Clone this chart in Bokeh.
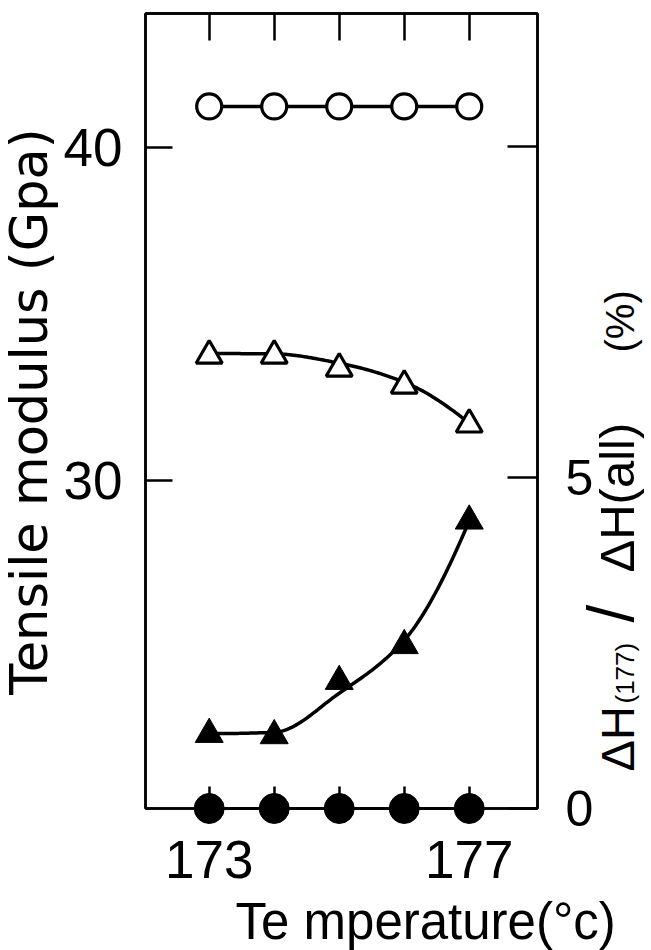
import numpy as np
from bokeh.plotting import figure
from bokeh.models import Range1d, LinearAxis, FixedTicker
from bokeh.embed import file_html
from bokeh.resources import INLINE
from bokeh.core.properties import value

# ---------------- data ----------------
temps = [173, 174, 175, 176, 177]
modulus_open_circle = [41.23, 41.23, 41.23, 41.23, 41.23]
modulus_open_triangle = [33.75, 33.75, 33.36, 32.85, 31.68]
dh_filled_triangle = [1.12, 1.10, 1.92, 2.46, 4.34]
dh_filled_circle = [0.0, 0.0, 0.0, 0.0, 0.0]
# hand-drawn smooth fit curves (values read where the curve crosses each temperature)
fit_open_triangle = [33.81, 33.80, 33.52, 32.95, 31.72]
fit_filled_triangle = [1.13, 1.15, 1.74, 2.54, 4.34]

x_ticks = [173, 174, 175, 176, 177]
x_tick_labels = {173: "173", 174: "", 175: "", 176: "", 177: "177"}
left_ticks = [30, 40]
right_ticks = [0, 5, 10]
right_tick_labels = {0: "0", 5: "5", 10: ""}

x_label = "Te mperature(°c)"
left_label = "Tensile modulus (Gpa)"
right_label_parts = ["ΔH", "(177)", "/", "ΔH(all)", "(%)"]

# ---------------- layout ----------------
X0, X1 = 172.02, 178.05
Y0, Y1 = 20.15, 44.02
P0, P1 = 0.0, 12.0
W, H = 651, 950
# frame edges in canvas pixels
FL, FR, FT, FB = 145, 537, 13, 808
BASE_SHIFT = 0.36  # text glyph baseline correction (fraction of font size)


def px_x(px):
    return X0 + (px - FL) / (FR - FL) * (X1 - X0)


def py_left(py):
    return Y0 + (FB - py) / (FB - FT) * (Y1 - Y0)


def py_pct(py):
    return P0 + (FB - py) / (FB - FT) * (P1 - P0)


def pchip(xs, ys, n=30):
    x = np.asarray(xs, float)
    y = np.asarray(ys, float)
    h = np.diff(x)
    d = np.diff(y) / h
    m = np.zeros_like(y)
    for k in range(1, len(x) - 1):
        if d[k - 1] * d[k] > 0:
            w1 = 2 * h[k] + h[k - 1]
            w2 = h[k] + 2 * h[k - 1]
            m[k] = (w1 + w2) / (w1 / d[k - 1] + w2 / d[k])

    def end(h0, h1, d0, d1):
        mm = ((2 * h0 + h1) * d0 - h0 * d1) / (h0 + h1)
        if np.sign(mm) != np.sign(d0):
            return 0.0
        if np.sign(d0) != np.sign(d1) and abs(mm) > abs(3 * d0):
            return 3 * d0
        return mm

    m[0] = end(h[0], h[1], d[0], d[1])
    m[-1] = end(h[-1], h[-2], d[-1], d[-2])
    ox, oy = [], []
    t = np.linspace(0, 1, n, endpoint=False)
    for k in range(len(x) - 1):
        h00 = 2 * t ** 3 - 3 * t ** 2 + 1
        h10 = t ** 3 - 2 * t ** 2 + t
        h01 = -2 * t ** 3 + 3 * t ** 2
        h11 = t ** 3 - t ** 2
        ox.extend(x[k] + t * h[k])
        oy.extend(h00 * y[k] + h10 * h[k] * m[k] + h01 * y[k + 1] + h11 * h[k] * m[k + 1])
    ox.append(x[-1])
    oy.append(y[-1])
    return ox, oy


p = figure(width=W, height=H, x_range=Range1d(X0, X1), y_range=Range1d(Y0, Y1),
           output_backend="svg", toolbar_location=None,
           x_axis_location=None, y_axis_location=None,
           min_border_left=FL, min_border_right=W - FR, min_border_top=FT,
           min_border_bottom=H - FB)
p.extra_y_ranges = {"pct": Range1d(P0, P1)}
p.background_fill_color = "white"
p.border_fill_color = "white"
p.outline_line_color = "black"
p.outline_line_width = 2.5
p.xgrid.visible = False
p.ygrid.visible = False

NUM_FONT = "Liberation Sans"


def style(ax, tick_in, size, standoff):
    ax.axis_line_color = "black"
    ax.axis_line_width = 2.5
    ax.major_tick_in = tick_in
    ax.major_tick_out = 0
    ax.major_tick_line_width = 2.5
    ax.major_tick_line_color = "black"
    ax.minor_tick_line_color = None
    ax.major_label_text_font = NUM_FONT
    ax.major_label_text_font_size = size
    ax.major_label_text_color = "black"
    ax.major_label_standoff = standoff


left = LinearAxis(ticker=FixedTicker(ticks=left_ticks))
style(left, 27, "53px", 23)
p.add_layout(left, "left")

right = LinearAxis(y_range_name="pct", ticker=FixedTicker(ticks=right_ticks),
                   major_label_overrides=right_tick_labels)
style(right, 30, "50px", 28)
p.add_layout(right, "right")

below = LinearAxis(ticker=FixedTicker(ticks=x_ticks), major_label_overrides=x_tick_labels)
style(below, 22, "53px", 32)
p.add_layout(below, "below")

above = LinearAxis(ticker=FixedTicker(ticks=x_ticks),
                   major_label_overrides={t: "" for t in x_ticks})
style(above, 27, "1px", 0)
p.add_layout(above, "above")

# ---------------- series ----------------
p.line(temps, modulus_open_circle, line_color="black", line_width=3.5)
p.scatter(temps, modulus_open_circle, marker="circle", size=25,
          fill_color="white", line_color="black", line_width=3.2)

sx, sy = pchip(temps, fit_open_triangle)
p.line(sx, sy, line_color="black", line_width=3.5)
p.scatter(temps, modulus_open_triangle, marker="triangle", size=26,
          fill_color="white", line_color="black", line_width=3.2)

fx, fy = pchip(temps, fit_filled_triangle)
p.line(fx, fy, line_color="black", line_width=3.5, y_range_name="pct")
p.scatter(temps, dh_filled_triangle, marker="triangle", size=28,
          fill_color="black", line_color="black", line_width=1, y_range_name="pct")

p.line(temps, dh_filled_circle, line_color="black", line_width=3, y_range_name="pct",
       level="overlay")
p.scatter(temps, dh_filled_circle, marker="circle", size=30,
          fill_color="black", line_color="black", line_width=1, y_range_name="pct",
          level="overlay")

# ---------------- titles (text glyphs on the overlay level, not clipped) ----------------
p.text(x=[px_x(47 - BASE_SHIFT * 51)], y=[py_left(411)], text=[left_label], angle=np.pi / 2,
       text_align="center", text_baseline="alphabetic",
       text_font=value("DejaVu Sans"), text_font_size=value("51px"), text_color="black",
       level="overlay")

p.text(x=[px_x(235)], y=[py_left(939 - BASE_SHIFT * 51)], text=[x_label],
       text_align="left", text_baseline="alphabetic",
       text_font=value("Liberation Sans"), text_font_size=value("51px"), text_color="black",
       level="overlay")

starts = [771, 703, 622, 572, 352]
sizes = [47, 26, 64, 49, 40]
for txt, st, sz in zip(right_label_parts, starts, sizes):
    p.text(x=[px_x(634 - BASE_SHIFT * sz)], y=[py_pct(st)], y_range_name="pct", text=[txt],
           angle=np.pi / 2, text_align="left", text_baseline="alphabetic",
           text_font=value("Liberation Sans"), text_font_size=value(f"{sz}px"),
           text_color="black", level="overlay")

open("out.html", "w").write(file_html(p, INLINE))
